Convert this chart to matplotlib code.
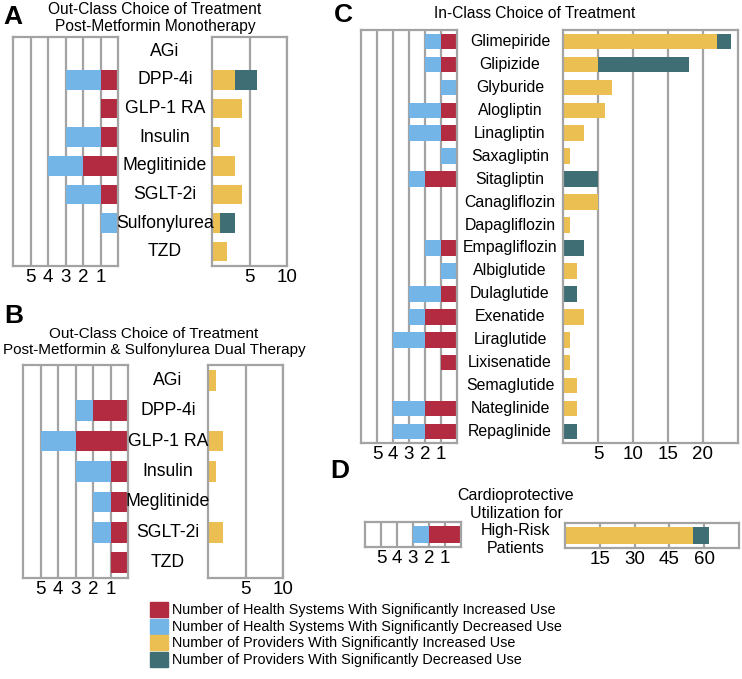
import matplotlib
matplotlib.use("Agg")
import matplotlib.pyplot as plt
from matplotlib.patches import Patch
from matplotlib.transforms import blended_transform_factory

plt.rcParams['font.family'] = ['Liberation Sans', 'DejaVu Sans']

# Colores
RED = '#B22B40'
BLUE = '#72B5E6'
YELLOW = '#EBBF52'
TEAL = '#3F6F74'
GRIS = '#A3A3A3'

# Panel A
a_cats = ['AGi', 'DPP-4i', 'GLP-1 RA', 'Insulin', 'Meglitinide', 'SGLT-2i', 'Sulfonylurea', 'TZD']
a_hs_inc = [0, 1, 1, 1, 2, 1, 0, 0]
a_hs_dec = [0, 2, 0, 2, 2, 2, 1, 0]
a_pr_inc = [0, 3, 4, 1, 3, 4, 1, 2]
a_pr_dec = [0, 3, 0, 0, 0, 0, 2, 0]

# Panel B
b_cats = ['AGi', 'DPP-4i', 'GLP-1 RA', 'Insulin', 'Meglitinide', 'SGLT-2i', 'TZD']
b_hs_inc = [0, 2, 3, 1, 1, 1, 1]
b_hs_dec = [0, 1, 2, 2, 1, 1, 0]
b_pr_inc = [1, 0, 2, 1, 0, 2, 0]
b_pr_dec = [0, 0, 0, 0, 0, 0, 0]

# Panel C
c_cats = ['Glimepiride', 'Glipizide', 'Glyburide', 'Alogliptin', 'Linagliptin', 'Saxagliptin',
          'Sitagliptin', 'Canagliflozin', 'Dapagliflozin', 'Empagliflozin', 'Albiglutide',
          'Dulaglutide', 'Exenatide', 'Liraglutide', 'Lixisenatide', 'Semaglutide',
          'Nateglinide', 'Repaglinide']
c_hs_inc = [1, 1, 0, 1, 1, 0, 2, 0, 0, 1, 0, 1, 2, 2, 1, 0, 2, 2]
c_hs_dec = [1, 1, 1, 2, 2, 1, 1, 0, 0, 1, 1, 2, 1, 2, 0, 0, 2, 2]
c_pr_inc = [22, 5, 7, 6, 3, 1, 0, 5, 1, 0, 2, 0, 3, 1, 1, 2, 2, 0]
c_pr_dec = [2, 13, 0, 0, 0, 0, 5, 0, 0, 3, 0, 2, 0, 0, 0, 0, 0, 2]

# Panel D
d_cats = ['']
d_hs_inc = [2]
d_hs_dec = [1]
d_pr_inc = [55]
d_pr_dec = [7]

hs_ticks = [5, 4, 3, 2, 1]

W, H = 742, 679
fig = plt.figure(figsize=(W / 100, H / 100), dpi=100)


def px_axes(x0, y0, x1, y1):
    return fig.add_axes([x0 / W, 1 - y1 / H, (x1 - x0) / W, (y1 - y0) / H])


def estilo(ax, ticks):
    for s in ax.spines.values():
        s.set_color(GRIS)
        s.set_linewidth(1.6)
    ax.set_xticks(ticks)
    ax.set_yticks([])
    ax.tick_params(axis='x', length=0, pad=2, labelsize=13.5)
    ax.grid(axis='x', color=GRIS, linewidth=1.6)
    ax.set_axisbelow(True)


def panel(cats, hs_inc, hs_dec, pr_inc, pr_dec, lbox, rbox, rmax, rticks, fs=12.5):
    n = len(cats)
    y = list(range(n))
    axl = px_axes(*lbox)
    axl.barh(y, hs_inc, height=0.68, color=RED, linewidth=0)
    axl.barh(y, hs_dec, left=hs_inc, height=0.68, color=BLUE, linewidth=0)
    axl.set_xlim(6, 0)
    axl.set_ylim(n - 0.5, -0.5)
    estilo(axl, hs_ticks)

    axr = px_axes(*rbox)
    axr.barh(y, pr_inc, height=0.68, color=YELLOW, linewidth=0)
    axr.barh(y, pr_dec, left=pr_inc, height=0.68, color=TEAL, linewidth=0)
    axr.set_xlim(0, rmax)
    axr.set_ylim(n - 0.5, -0.5)
    estilo(axr, rticks)

    cx = (lbox[2] + rbox[0]) / 2 / W
    tr = blended_transform_factory(fig.transFigure, axr.transData)
    for i, c in enumerate(cats):
        axr.text(cx, i, c, transform=tr, ha='center', va='center', fontsize=fs)
    return axl, axr


panel(a_cats, a_hs_inc, a_hs_dec, a_pr_inc, a_pr_dec,
      (13, 37, 118, 266), (212, 37, 287, 266), 10, [5, 10], fs=12.7)
panel(b_cats, b_hs_inc, b_hs_dec, b_pr_inc, b_pr_dec,
      (23, 365, 128, 578), (208, 365, 283, 578), 10, [5, 10], fs=12.7)
panel(c_cats, c_hs_inc, c_hs_dec, c_pr_inc, c_pr_dec,
      (361, 30, 457, 443), (563, 30, 738, 443), 25, [5, 10, 15, 20], fs=11.4)
panel(d_cats, d_hs_inc, d_hs_dec, d_pr_inc, d_pr_dec,
      (365, 522, 461, 547), (565, 523, 739, 548), 75, [15, 30, 45, 60])

# Titulos
fig.text(155 / W, 1 - 18 / H, 'Out-Class Choice of Treatment\nPost-Metformin Monotherapy',
         ha='center', va='center', fontsize=11.2, linespacing=1.15)
fig.text(154 / W, 1 - 342 / H,
         'Out-Class Choice of Treatment\nPost-Metformin & Sulfonylurea Dual Therapy',
         ha='center', va='center', fontsize=11.0, linespacing=1.15)
fig.text(535 / W, 1 - 14 / H, 'In-Class Choice of Treatment', ha='center', va='center', fontsize=11.2)
fig.text(516 / W, 1 - 522 / H, 'Cardioprotective\nUtilization for\nHigh-Risk\nPatients',
         ha='center', va='center', fontsize=11.5, linespacing=1.2)

# Letras de panel
for letra, x, yy in [('A', 3, 17), ('B', 4, 316), ('C', 334, 15), ('D', 330, 471)]:
    fig.text(x / W, 1 - yy / H, letra, ha='left', va='center', fontsize=19, fontweight='bold')

# Leyenda
handles = [Patch(color=RED), Patch(color=BLUE), Patch(color=YELLOW), Patch(color=TEAL)]
labels = ['Number of Health Systems With Significantly Increased Use',
          'Number of Health Systems With Significantly Decreased Use',
          'Number of Providers With Significantly Increased Use',
          'Number of Providers With Significantly Decreased Use']
fig.legend(handles, labels, loc='upper left', bbox_to_anchor=(150 / W, 1 - 602 / H),
           frameon=False, fontsize=10.4, handlelength=1.25, handleheight=1.22,
           labelspacing=0.08, handletextpad=0.25, borderpad=0, borderaxespad=0)

plt.savefig('out.png', dpi=100)
